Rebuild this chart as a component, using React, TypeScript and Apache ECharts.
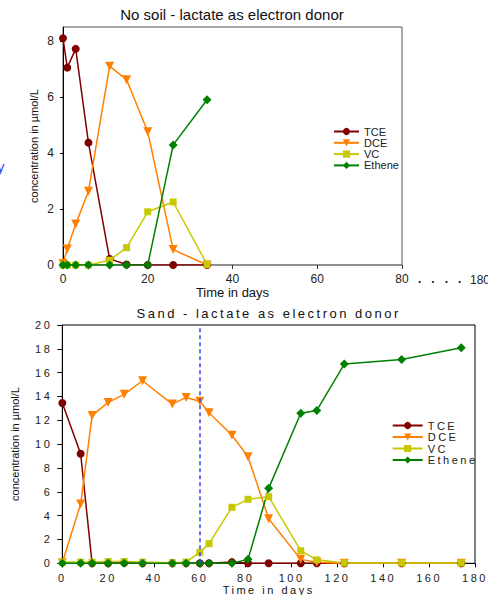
import React, { useEffect, useRef } from "react";
import * as echarts from "echarts";

// ---------- Data: No soil ----------
const noSoilDays = [0, 1, 3, 6, 11, 15, 20, 26, 34];
const noSoilTCE = [8.1, 7.05, 7.72, 4.37, 0.22, 0.02, 0, 0, 0];
const noSoilDCE = [0.05, 0.57, 1.46, 2.63, 7.1, 6.62, 4.76, 0.55, 0];
const noSoilVC = [0, 0, 0, 0, 0.17, 0.62, 1.9, 2.25, 0.02];
const noSoilEthene = [0, 0, 0, 0, 0, 0, 0, 4.29, 5.9];

// ---------- Data: Sand ----------
const sandDays = [0, 8, 13, 20, 27, 35, 48, 54, 60, 64, 74, 81, 90, 104, 111, 123, 148, 174];
const sandTCE = [13.45, 9.2, 0, 0, 0.05, 0, 0, 0, 0, 0, 0.1, 0, 0, 0, 0, 0, 0, 0];
const sandDCE = [0.05, 4.97, 12.4, 13.5, 14.18, 15.32, 13.36, 13.92, 13.6, 12.64, 10.75, 8.95, 3.74, 0.33, 0.08, 0, 0, 0];
const sandVC = [0.1, 0.1, 0.1, 0.15, 0.15, 0.1, 0.05, 0.1, 0.92, 1.65, 4.7, 5.37, 5.59, 1.06, 0.29, 0.03, 0.03, 0.03];
const sandEthene = [0, 0, 0, 0, 0, 0, 0, 0, 0, 0, 0, 0.33, 6.29, 12.6, 12.83, 16.72, 17.1, 18.09];
const markerDay = 60;

const seriesNames = ["TCE", "DCE", "VC", "Ethene"];
const seriesColors = ["#800000", "#ff8000", "#c8c800", "#008000"];
const seriesSymbols = ["circle", "triangle", "rect", "diamond"];
const seriesSymbolSizes = [8, 9, 7, 9];
const seriesRotate = [0, 180, 0, 0];

const FONT = '"Liberation Sans", Arial, Helvetica, sans-serif';

function zip(xs: number[], ys: number[]) {
  return xs.map((x, i) => [x, ys[i]]);
}

function makeSeries(xs: number[], data: number[][], extra?: any[]) {
  return data.map((ys, i) => ({
    name: seriesNames[i],
    type: "line",
    data: zip(xs, ys),
    symbol: seriesSymbols[i],
    symbolSize: seriesSymbolSizes[i],
    symbolRotate: seriesRotate[i],
    showAllSymbol: true,
    lineStyle: { color: seriesColors[i], width: 1.5 },
    itemStyle: { color: seriesColors[i] },
    ...(extra && extra[i] ? extra[i] : {}),
  }));
}

export default function App() {
  const topRef = useRef<HTMLDivElement>(null);
  const botRef = useRef<HTMLDivElement>(null);

  useEffect(() => {
    const a = echarts.init(topRef.current!, undefined, { renderer: "svg" });
    const b = echarts.init(botRef.current!, undefined, { renderer: "svg" });

    const optA: any = {
      animation: false,
      textStyle: { fontFamily: FONT },
      grid: { left: 63, width: 339, top: 27, height: 238, show: true, borderColor: "#555", borderWidth: 1, outerBoundsMode: "none", containLabel: false },
      xAxis: {
        type: "value",
        min: 0,
        max: 80,
        interval: 20,
        name: "Time in days",
        nameLocation: "middle",
        nameGap: 21,
        nameMoveOverlap: false,
        nameTextStyle: { fontSize: 13, color: "#111", fontFamily: FONT },
        axisLine: { show: true, lineStyle: { color: "#888", width: 1.5 } },
        axisTick: { show: true, length: 4, lineStyle: { color: "#333" } },
        axisLabel: { fontSize: 12, color: "#222", margin: 8, fontFamily: FONT },
        splitLine: { show: false },
      },
      yAxis: {
        type: "value",
        min: 0,
        max: 8.5,
        interval: 2,
        axisLine: { show: true, lineStyle: { color: "#000", width: 1 } },
        axisTick: { show: true, length: 3, lineStyle: { color: "#000" } },
        axisLabel: { fontSize: 12, color: "#222", margin: 9, showMaxLabel: false, fontFamily: FONT },
        splitLine: { show: false },
      },
      legend: {
        orient: "vertical",
        left: 328,
        top: 121,
        itemWidth: 25,
        itemHeight: 9,
        itemGap: 0.3,
        textStyle: { fontSize: 11, color: "#222", fontFamily: FONT },
        data: seriesNames,
      },
      series: makeSeries(noSoilDays, [noSoilTCE, noSoilDCE, noSoilVC, noSoilEthene]),
      graphic: [
        {
          type: "text",
          x: 232,
          y: 14,
          style: { text: "No soil - lactate as electron donor", fontSize: 15, fill: "#111", fontFamily: FONT, align: "center", verticalAlign: "middle" },
        },
        {
          type: "text",
          x: 34,
          y: 146,
          rotation: Math.PI / 2,
          style: { text: "concentration in µmol/L", fontSize: 11, fill: "#111", fontFamily: FONT, align: "center", verticalAlign: "middle" },
        },
        {
          type: "text",
          x: 15,
          y: 444,
          rotation: Math.PI / 2,
          style: { text: "concentration in µmol/L", fontSize: 11, fill: "#111", fontFamily: FONT, align: "center", verticalAlign: "middle" },
        },
        {
          type: "text",
          x: -3,
          y: 166,
          style: { text: "y", fontSize: 15, fill: "#3344ff", fontFamily: FONT, align: "left", verticalAlign: "middle" },
        },
        {
          type: "text",
          x: 418,
          y: 279,
          style: { text: ".   .   .   .", fontSize: 12, fontWeight: "bold", fill: "#111", fontFamily: FONT, align: "left", verticalAlign: "middle" },
        },
        {
          type: "text",
          x: 470,
          y: 280,
          style: { text: "180", fontSize: 12, fill: "#222", fontFamily: FONT, align: "left", verticalAlign: "middle" },
        },
      ],
    };

    const optB: any = {
      animation: false,
      textStyle: { fontFamily: FONT },
      grid: { left: 62.3, width: 412.7, top: 25, height: 238.3, show: true, borderColor: "#000", borderWidth: 1, outerBoundsMode: "none", containLabel: false },
      xAxis: {
        type: "value",
        min: 0,
        max: 180,
        interval: 20,
        name: "Time in days",
        nameLocation: "middle",
        nameGap: 21,
        nameMoveOverlap: false,
        nameTextStyle: { fontSize: 11, color: "#111", fontFamily: FONT },
        axisLine: { show: true, lineStyle: { color: "#000", width: 1 } },
        axisTick: { show: true, length: 4, lineStyle: { color: "#000" } },
        axisLabel: { fontSize: 11, color: "#222", margin: 9, fontFamily: FONT },
        splitLine: { show: false },
      },
      yAxis: {
        type: "value",
        min: 0,
        max: 20,
        interval: 2,
        axisLine: { show: true, lineStyle: { color: "#000", width: 1 } },
        axisTick: { show: true, length: 5, lineStyle: { color: "#000" } },
        axisLabel: { fontSize: 11, color: "#222", margin: 10, fontFamily: FONT },
        splitLine: { show: false },
      },
      legend: {
        orient: "vertical",
        left: 386.7,
        top: 115,
        itemWidth: 30,
        itemHeight: 9,
        itemGap: 0.5,
        textStyle: { fontSize: 11, color: "#222", fontFamily: FONT },
        data: seriesNames,
      },
      series: makeSeries(sandDays, [sandTCE, sandDCE, sandVC, sandEthene], [
        null,
        null,
        null,
        {
          markLine: {
            silent: true,
            symbol: ["none", "none"],
            label: { show: false },
            lineStyle: { color: "#3344ee", type: [4, 3], width: 1.5 },
            data: [{ xAxis: markerDay }],
          },
        },
      ]),
      graphic: [
        {
          type: "text",
          x: 268.7,
          y: 13,
          style: { text: "Sand - lactate as electron donor", fontSize: 13, fill: "#111", fontFamily: FONT, align: "center", verticalAlign: "middle" },
        },
      ],
    };

    a.setOption(optA);
    b.setOption(optB);
    return () => {
      a.dispose();
      b.dispose();
    };
  }, []);

  return (
    <div style={{ position: "fixed", left: 0, top: 0, width: 488, height: 595, background: "#fff", overflow: "hidden" }}>
      <div ref={topRef} style={{ position: "absolute", left: 0, top: 0, width: 488, height: 595 }} />
      <div ref={botRef} style={{ position: "absolute", left: 0, top: 300, width: 488, height: 295, letterSpacing: "2.5px" }} />
    </div>
  );
}
